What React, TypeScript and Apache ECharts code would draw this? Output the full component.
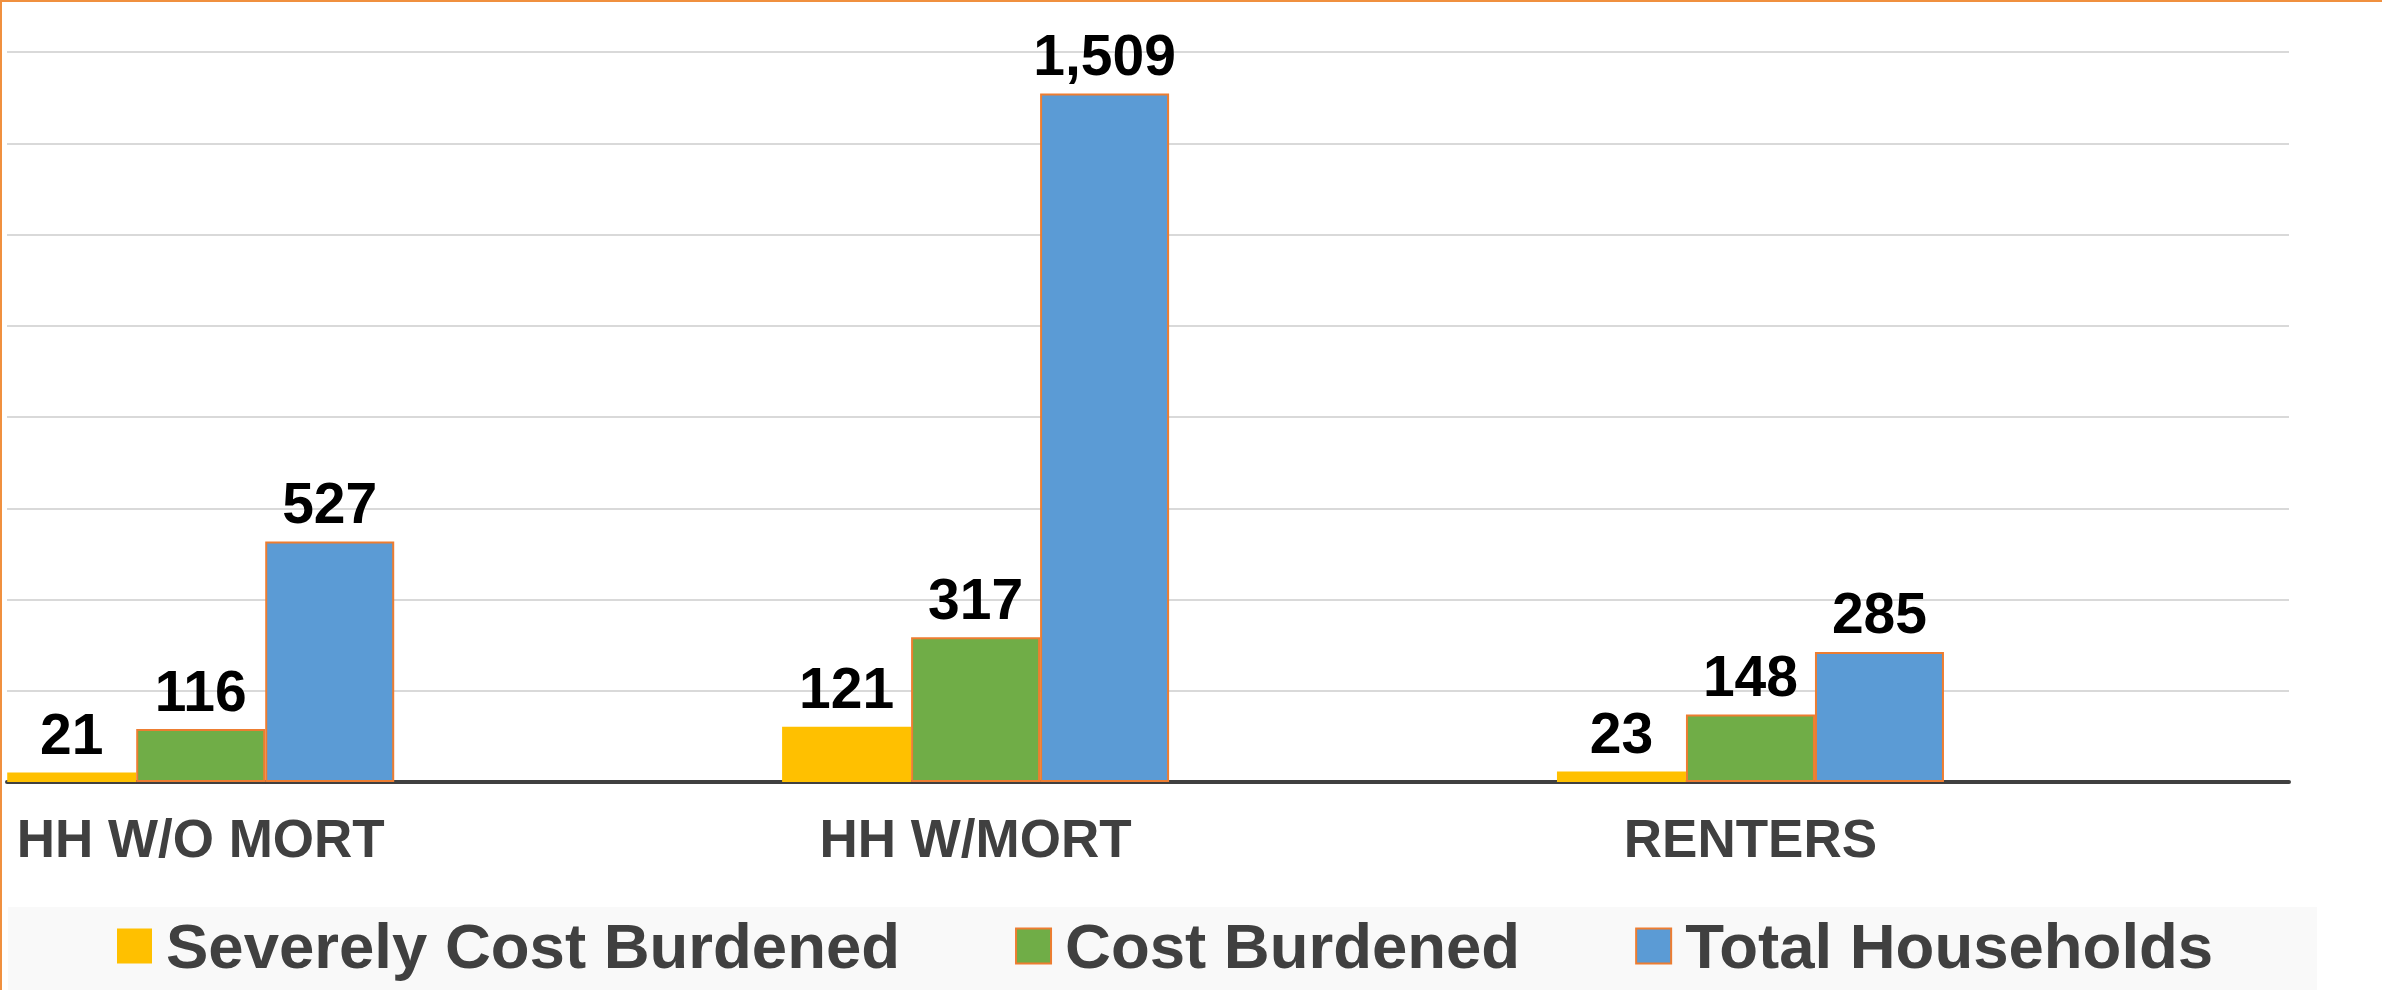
import React, { useEffect, useRef } from "react";
import * as echarts from "echarts";

const categories = ["HH W/O MORT", "HH W/MORT", "RENTERS"];
const seriesNames = ["Severely Cost Burdened", "Cost Burdened", "Total Households"];
const severelyCostBurdened = [21, 121, 23];
const costBurdened = [116, 317, 148];
const totalHouseholds = [527, 1509, 285];
const seriesColors = ["#FFC000", "#70AD47", "#5B9BD5"];
const categoryPositions = [0, 1, 2];

const W = 2382;
const H = 990;

export default function App() {
  const ref = useRef<HTMLDivElement>(null);

  useEffect(() => {
    document.body.style.margin = "0";
    if (!ref.current) return;
    const chart = echarts.init(ref.current, null, { renderer: "svg" });
    const allValues = [severelyCostBurdened, costBurdened, totalHouseholds];

    const series = allValues.map((vals, si) => ({
      name: seriesNames[si],
      type: "bar",
      barWidth: 129,
      barGap: "0%",
      data: vals.map((v, i) => [categoryPositions[i], v]),
      itemStyle: {
        color: seriesColors[si],
        borderColor: si === 0 ? seriesColors[0] : "#ED7D31",
        borderWidth: si === 0 ? 0 : 2,
      },
      label: {
        show: true,
        position: "top",
        distance: 10,
        color: "#000000",
        fontFamily: "'Liberation Sans Narrow', 'Liberation Sans', Arial, sans-serif",
        fontWeight: "bold",
        fontSize: 57,
        formatter: (p: any) => Number(p.value[1]).toLocaleString("en-US"),
      },
    }));

    chart.setOption({
      animation: false,
      backgroundColor: "#FFFFFF",
      grid: { left: 7, right: 93, top: 52, bottom: 208, containLabel: false },
      xAxis: {
        type: "value",
        min: -0.25,
        max: 2.695,
        splitLine: { show: false },
        axisTick: { show: false },
        axisLine: { show: true, onZero: false, lineStyle: { color: "#404040", width: 4 } },
        axisLabel: {
          show: true,
          customValues: categoryPositions,
          formatter: (v: number) => categories[Math.round(v)] ?? "",
          color: "#404040",
          fontFamily: "'Liberation Sans', Arial, sans-serif",
          fontWeight: "bold",
          fontSize: 53,
          margin: 30,
        },
      },
      yAxis: {
        type: "value",
        min: 0,
        max: 1600,
        interval: 200,
        axisLabel: { show: false },
        axisLine: { show: false },
        axisTick: { show: false },
        splitLine: { show: true, lineStyle: { color: "#D9D9D9", width: 2 } },
      },
      legend: {
        data: seriesNames,
        left: 117,
        top: 914,
        padding: 0,
        icon: "rect",
        itemWidth: 35,
        itemHeight: 35,
        itemGap: 115,
        textStyle: {
          color: "#404040",
          fontFamily: "'Liberation Sans', Arial, sans-serif",
          fontWeight: "bold",
          fontSize: 63.5,
          padding: [0, 0, 0, 9],
        },
      },
      graphic: [
        {
          type: "rect",
          z: 0,
          shape: { x: 8, y: 907, width: 2309, height: 90 },
          style: { fill: "#F9F9F9" },
          silent: true,
        },
        {
          type: "rect",
          z: 10,
          shape: { x: 1, y: 1, width: 2500, height: 1100 },
          style: { fill: "none", stroke: "#F0903F", lineWidth: 2 },
          silent: true,
        },
      ],
      series,
    });

    return () => chart.dispose();
  }, []);

  return <div ref={ref} style={{ width: W, height: H }} />;
}
